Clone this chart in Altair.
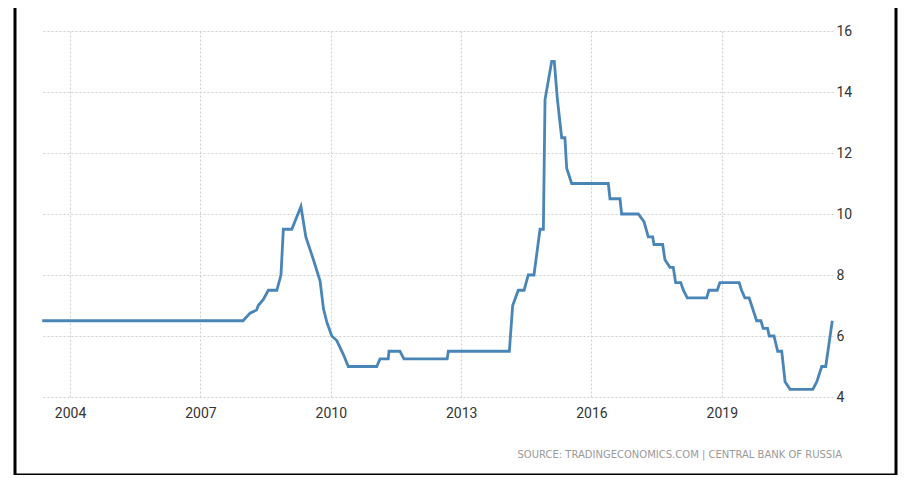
import altair as alt
import pandas as pd

dates = [
    "2003-05-12", "2007-12-25", "2008-02-22", "2008-04-17", "2008-05-01", "2008-06-13",
    "2008-07-25", "2008-10-04", "2008-11-08", "2008-11-28", "2009-02-07", "2009-04-25",
    "2009-06-05", "2009-08-08", "2009-10-03", "2009-10-31", "2009-11-29", "2010-01-09",
    "2010-02-20", "2010-04-16", "2010-05-28", "2011-01-22", "2011-02-19", "2011-04-29",
    "2011-05-05", "2011-08-05", "2011-09-08", "2012-09-05", "2012-09-15", "2014-02-10",
    "2014-03-10", "2014-04-26", "2014-06-14", "2014-07-19", "2014-09-05", "2014-10-26",
    "2014-11-23", "2014-12-07", "2015-02-01", "2015-02-23", "2015-03-20", "2015-04-26",
    "2015-05-23", "2015-06-07", "2015-07-19", "2016-05-22", "2016-06-05", "2016-08-28",
    "2016-09-11", "2017-01-29", "2017-03-18", "2017-04-23", "2017-05-30", "2017-06-10",
    "2017-08-22", "2017-09-10", "2017-10-22", "2017-11-19", "2017-12-09", "2018-01-21",
    "2018-02-12", "2018-03-17", "2018-08-27", "2018-09-15", "2018-11-24", "2018-12-16",
    "2019-05-27", "2019-06-16", "2019-07-14", "2019-08-19", "2019-09-09", "2019-10-21",
    "2019-11-26", "2019-12-15", "2020-01-21", "2020-02-04", "2020-03-15", "2020-04-15",
    "2020-05-19", "2020-06-16", "2020-07-28", "2021-02-04", "2021-03-10", "2021-04-20",
    "2021-05-24", "2021-07-18",
]
rates = [
    6.5, 6.5, 6.75, 6.85, 7.0, 7.2,
    7.5, 7.5, 8.0, 9.5, 9.5, 10.25,
    9.25, 8.5, 7.8, 6.9, 6.45, 6.0,
    5.85, 5.4, 5.0, 5.0, 5.25, 5.25,
    5.5, 5.5, 5.25, 5.25, 5.5, 5.5,
    7.0, 7.5, 7.5, 8.0, 8.0, 9.5,
    9.5, 13.75, 15.0, 15.0, 13.8, 12.5,
    12.5, 11.5, 11.0, 11.0, 10.5, 10.5,
    10.0, 10.0, 9.75, 9.25, 9.25, 9.0,
    9.0, 8.5, 8.25, 8.25, 7.75, 7.75,
    7.5, 7.25, 7.25, 7.5, 7.5, 7.75,
    7.75, 7.5, 7.25, 7.25, 7.0, 6.5,
    6.5, 6.25, 6.25, 6.0, 6.0, 5.5,
    5.5, 4.5, 4.25, 4.25, 4.5, 5.0,
    5.0, 6.5,
]
x_tick_years = [2004, 2007, 2010, 2013, 2016, 2019]
y_ticks = [4, 6, 8, 10, 12, 14, 16]
source_text = "SOURCE: TRADINGECONOMICS.COM  |  CENTRAL BANK OF RUSSIA"

df = pd.DataFrame({"date": dates, "rate": rates})

x_scale = alt.Scale(
    type="utc",
    domain=[alt.DateTime(year=2003, month=5, date=10, utc=True),
            alt.DateTime(year=2021, month=7, date=24, utc=True)],
)

line = alt.Chart(df).mark_line(color="#4a85b8", strokeWidth=2.8).encode(
    x=alt.X("date:T", scale=x_scale, title=None,
            axis=alt.Axis(values=[alt.DateTime(year=y, month=1, date=1, utc=True) for y in x_tick_years],
                          format="%Y", ticks=False, domain=False, labelPadding=9,
                          gridDash=[2, 2], gridColor="#cfcfcf", labelFontSize=14,
                          labelColor="#333333", labelFont="Roboto")),
    y=alt.Y("rate:Q", scale=alt.Scale(domain=[4, 16], nice=False, zero=False), title=None,
            axis=alt.Axis(orient="right", values=y_ticks, ticks=False, domain=False,
                          labelPadding=3, gridDash=[2, 2], gridColor="#cfcfcf",
                          labelFontSize=14, labelColor="#333333", labelFont="Roboto")),
)

frame = alt.Chart(pd.DataFrame({"k": [0]})).mark_rect(
    fill="transparent", stroke="#000000", strokeWidth=3
).encode(
    x=alt.value(-27), x2=alt.value(854), y=alt.value(-27), y2=alt.value(444)
)

src = alt.Chart(pd.DataFrame({"t": [source_text]})).mark_text(
    align="right", baseline="middle", font="DejaVu Sans", fontSize=10, color="#9a9a9a"
).encode(text="t:N", x=alt.value(800), y=alt.value(424))

chart = alt.layer(line, frame, src).properties(
    width=791, height=366,
    padding={"left": 34, "top": 23, "right": 66, "bottom": 78},
    autosize=alt.AutoSizeParams(type="none"),
    background="white",
).configure_view(stroke="transparent")

chart.save("out.html", embed_options={"renderer": "svg", "actions": False})
